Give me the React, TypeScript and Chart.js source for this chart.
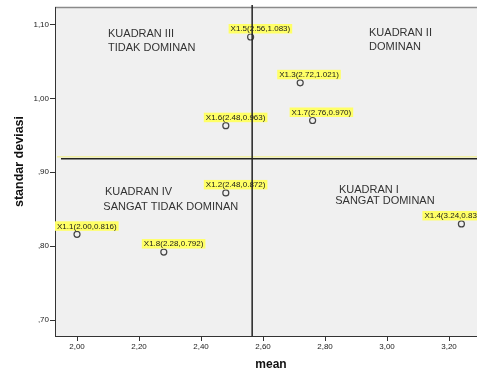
import React, { useEffect, useRef } from "react";
import { Chart, registerables } from "chart.js";

Chart.register(...registerables);

// ---- data ----
const itemNames = ["X1.1", "X1.2", "X1.3", "X1.4", "X1.5", "X1.6", "X1.7", "X1.8"];
const meanValues = [2.0, 2.48, 2.72, 3.24, 2.56, 2.48, 2.76, 2.28];
const sdValues = [0.816, 0.872, 1.021, 0.83, 1.083, 0.963, 0.97, 0.792];

const xTickValues = [2.0, 2.2, 2.4, 2.6, 2.8, 3.0, 3.2];
const xTickLabels = ["2,00", "2,20", "2,40", "2,60", "2,80", "3,00", "3,20"];
const yTickValues = [0.7, 0.8, 0.9, 1.0, 1.1];
const yTickLabels = [",70", ",80", ",90", "1,00", "1,10"];

const xAxisTitle = "mean";
const yAxisTitle = "standar deviasi";

const quadrantTitles = ["KUADRAN III", "KUADRAN II", "KUADRAN IV", "KUADRAN I"];
const quadrantSubtitles = ["TIDAK DOMINAN", "DOMINAN", "SANGAT TIDAK DOMINAN", "SANGAT DOMINAN"];

// reference lines (averages of the two series)
const refMean = meanValues.reduce((a, b) => a + b, 0) / meanValues.length;
const refSd = sdValues.reduce((a, b) => a + b, 0) / sdValues.length;

// annotation anchors (in data units)
const quadTitleAnchors = [
  [2.1, 1.0872],
  [2.942, 1.0889],
  [2.09, 0.8727],
  [2.845, 0.8764],
];
const quadSubAnchors = [
  [2.1, 1.0676],
  [2.942, 1.0696],
  [2.085, 0.853],
  [2.833, 0.8605],
];
// horizontal shift (px) of each point label box, relative to the point
const labelShift = [-22, -22, -23, -39, -22, -22, -23, -22];

const X_MIN = 1.929;
const X_MAX = 3.2903;
const Y_MIN = 0.6784;
const Y_MAX = 1.1236;

const FONT = "'Liberation Sans', Arial, sans-serif";

const overlayPlugin = {
  id: "spssOverlay",
  beforeDraw(chart: any) {
    const { ctx, chartArea } = chart;
    ctx.save();
    ctx.fillStyle = "#f0f0f0";
    ctx.fillRect(chartArea.left, chartArea.top, chartArea.right - chartArea.left, chartArea.bottom - chartArea.top);
    ctx.strokeStyle = "#8a8a8a";
    ctx.lineWidth = 1.5;
    ctx.beginPath();
    ctx.moveTo(chartArea.left, chartArea.top + 0.5);
    ctx.lineTo(chartArea.right, chartArea.top + 0.5);
    ctx.stroke();
    ctx.restore();
  },
  afterDatasetsDraw(chart: any) {
    const { ctx, chartArea } = chart;
    const xs = chart.scales.x;
    const ys = chart.scales.y;
    ctx.save();
    // quadrant texts
    ctx.font = `11px ${FONT}`;
    ctx.fillStyle = "#333";
    ctx.textAlign = "left";
    ctx.textBaseline = "middle";
    quadrantTitles.forEach((t, i) => {
      ctx.fillText(t, xs.getPixelForValue(quadTitleAnchors[i][0]), ys.getPixelForValue(quadTitleAnchors[i][1]));
      ctx.fillText(
        quadrantSubtitles[i],
        xs.getPixelForValue(quadSubAnchors[i][0]),
        ys.getPixelForValue(quadSubAnchors[i][1])
      );
    });
    // point labels
    ctx.font = `8px ${FONT}`;
    itemNames.forEach((n, i) => {
      const px = xs.getPixelForValue(meanValues[i]);
      const py = ys.getPixelForValue(sdValues[i]);
      const txt = `${n}(${meanValues[i].toFixed(2)},${sdValues[i].toFixed(3)})`;
      const w = ctx.measureText(txt).width;
      const left = px + labelShift[i];
      ctx.fillStyle = "#ffff66";
      ctx.fillRect(left, py - 13, w + 4, 9.5);
      ctx.fillStyle = "#1a1a1a";
      ctx.textBaseline = "middle";
      ctx.fillText(txt, left + 2, py - 8);
    });
    // reference lines
    const vx = xs.getPixelForValue(refMean);
    const hy = ys.getPixelForValue(refSd);
    ctx.strokeStyle = "#f2f07a";
    ctx.lineWidth = 1;
    ctx.beginPath();
    ctx.moveTo(chartArea.left + 2, hy - 1.8);
    ctx.lineTo(chartArea.right, hy - 1.8);
    ctx.stroke();
    ctx.strokeStyle = "#222";
    ctx.lineWidth = 1.5;
    ctx.beginPath();
    ctx.moveTo(chartArea.left + 6, hy);
    ctx.lineTo(chartArea.right, hy);
    ctx.stroke();
    ctx.beginPath();
    ctx.moveTo(vx, chartArea.top - 2);
    ctx.lineTo(vx, chartArea.bottom);
    ctx.stroke();
    ctx.restore();
  },
  afterDraw(chart: any) {
    const { ctx } = chart;
    ctx.save();
    ctx.fillStyle = "#111";
    ctx.textAlign = "center";
    ctx.textBaseline = "middle";
    ctx.font = `bold 12px ${FONT}`;
    ctx.fillText(xAxisTitle, 271, 365);
    ctx.translate(20, 161.5);
    ctx.rotate(-Math.PI / 2);
    ctx.font = `bold 12.5px ${FONT}`;
    ctx.fillText(yAxisTitle, 0, 0);
    ctx.restore();
  },
};

export default function App() {
  const ref = useRef<HTMLCanvasElement | null>(null);

  useEffect(() => {
    if (!ref.current) return;
    const chart = new Chart(ref.current, {
      type: "scatter",
      data: {
        datasets: [
          {
            label: "items",
            data: meanValues.map((m, i) => ({ x: m, y: sdValues[i] })),
            pointStyle: "circle",
            pointRadius: 3,
            pointBorderWidth: 1.2,
            pointBorderColor: "#444",
            pointBackgroundColor: "rgba(0,0,0,0)",
            showLine: false,
          },
        ],
      },
      options: {
        animation: false,
        responsive: false,
        devicePixelRatio: 1,
        layout: { autoPadding: false, padding: { top: 7, left: 0, right: 0, bottom: 0 } },
        plugins: { legend: { display: false }, tooltip: { enabled: false }, title: { display: false } },
        scales: {
          x: {
            type: "linear",
            min: X_MIN,
            max: X_MAX,
            afterBuildTicks: (s: any) => {
              s.ticks = xTickValues.map((v) => ({ value: v }));
            },
            afterFit: (s: any) => {
              s.height = 33;
              s.paddingLeft = 0;
              s.paddingRight = 0;
              s.paddingTop = 0;
              s.paddingBottom = 0;
            },
            ticks: {
              autoSkip: false,
              maxRotation: 0,
              padding: 1,
              color: "#222",
              font: { family: FONT, size: 8 },
              callback: (v: any) => {
                const i = xTickValues.findIndex((t) => Math.abs(t - v) < 1e-6);
                return i >= 0 ? xTickLabels[i] : "";
              },
            },
            grid: { drawOnChartArea: false, drawTicks: true, tickLength: 5, color: "#333" },
            border: { display: true, color: "#333", width: 1 },
            title: { display: false },
          },
          y: {
            type: "linear",
            min: Y_MIN,
            max: Y_MAX,
            afterBuildTicks: (s: any) => {
              s.ticks = yTickValues.map((v) => ({ value: v }));
            },
            afterFit: (s: any) => {
              s.width = 55;
              s.paddingLeft = 0;
              s.paddingRight = 0;
              s.paddingTop = 0;
              s.paddingBottom = 0;
            },
            ticks: {
              autoSkip: false,
              padding: 1,
              color: "#222",
              font: { family: FONT, size: 8 },
              callback: (v: any) => {
                const i = yTickValues.findIndex((t) => Math.abs(t - v) < 1e-6);
                return i >= 0 ? yTickLabels[i] : "";
              },
            },
            grid: { drawOnChartArea: false, drawTicks: true, tickLength: 5, color: "#333" },
            border: { display: true, color: "#333", width: 1 },
            title: { display: false },
          },
        },
      },
      plugins: [overlayPlugin],
    } as any);
    return () => chart.destroy();
  }, []);

  return (
    <div style={{ position: "fixed", left: 0, top: 0, width: 477, height: 369, overflow: "hidden", background: "#fff" }}>
      <canvas ref={ref} width={477} height={369} style={{ display: "block", width: 477, height: 369 }} />
    </div>
  );
}
